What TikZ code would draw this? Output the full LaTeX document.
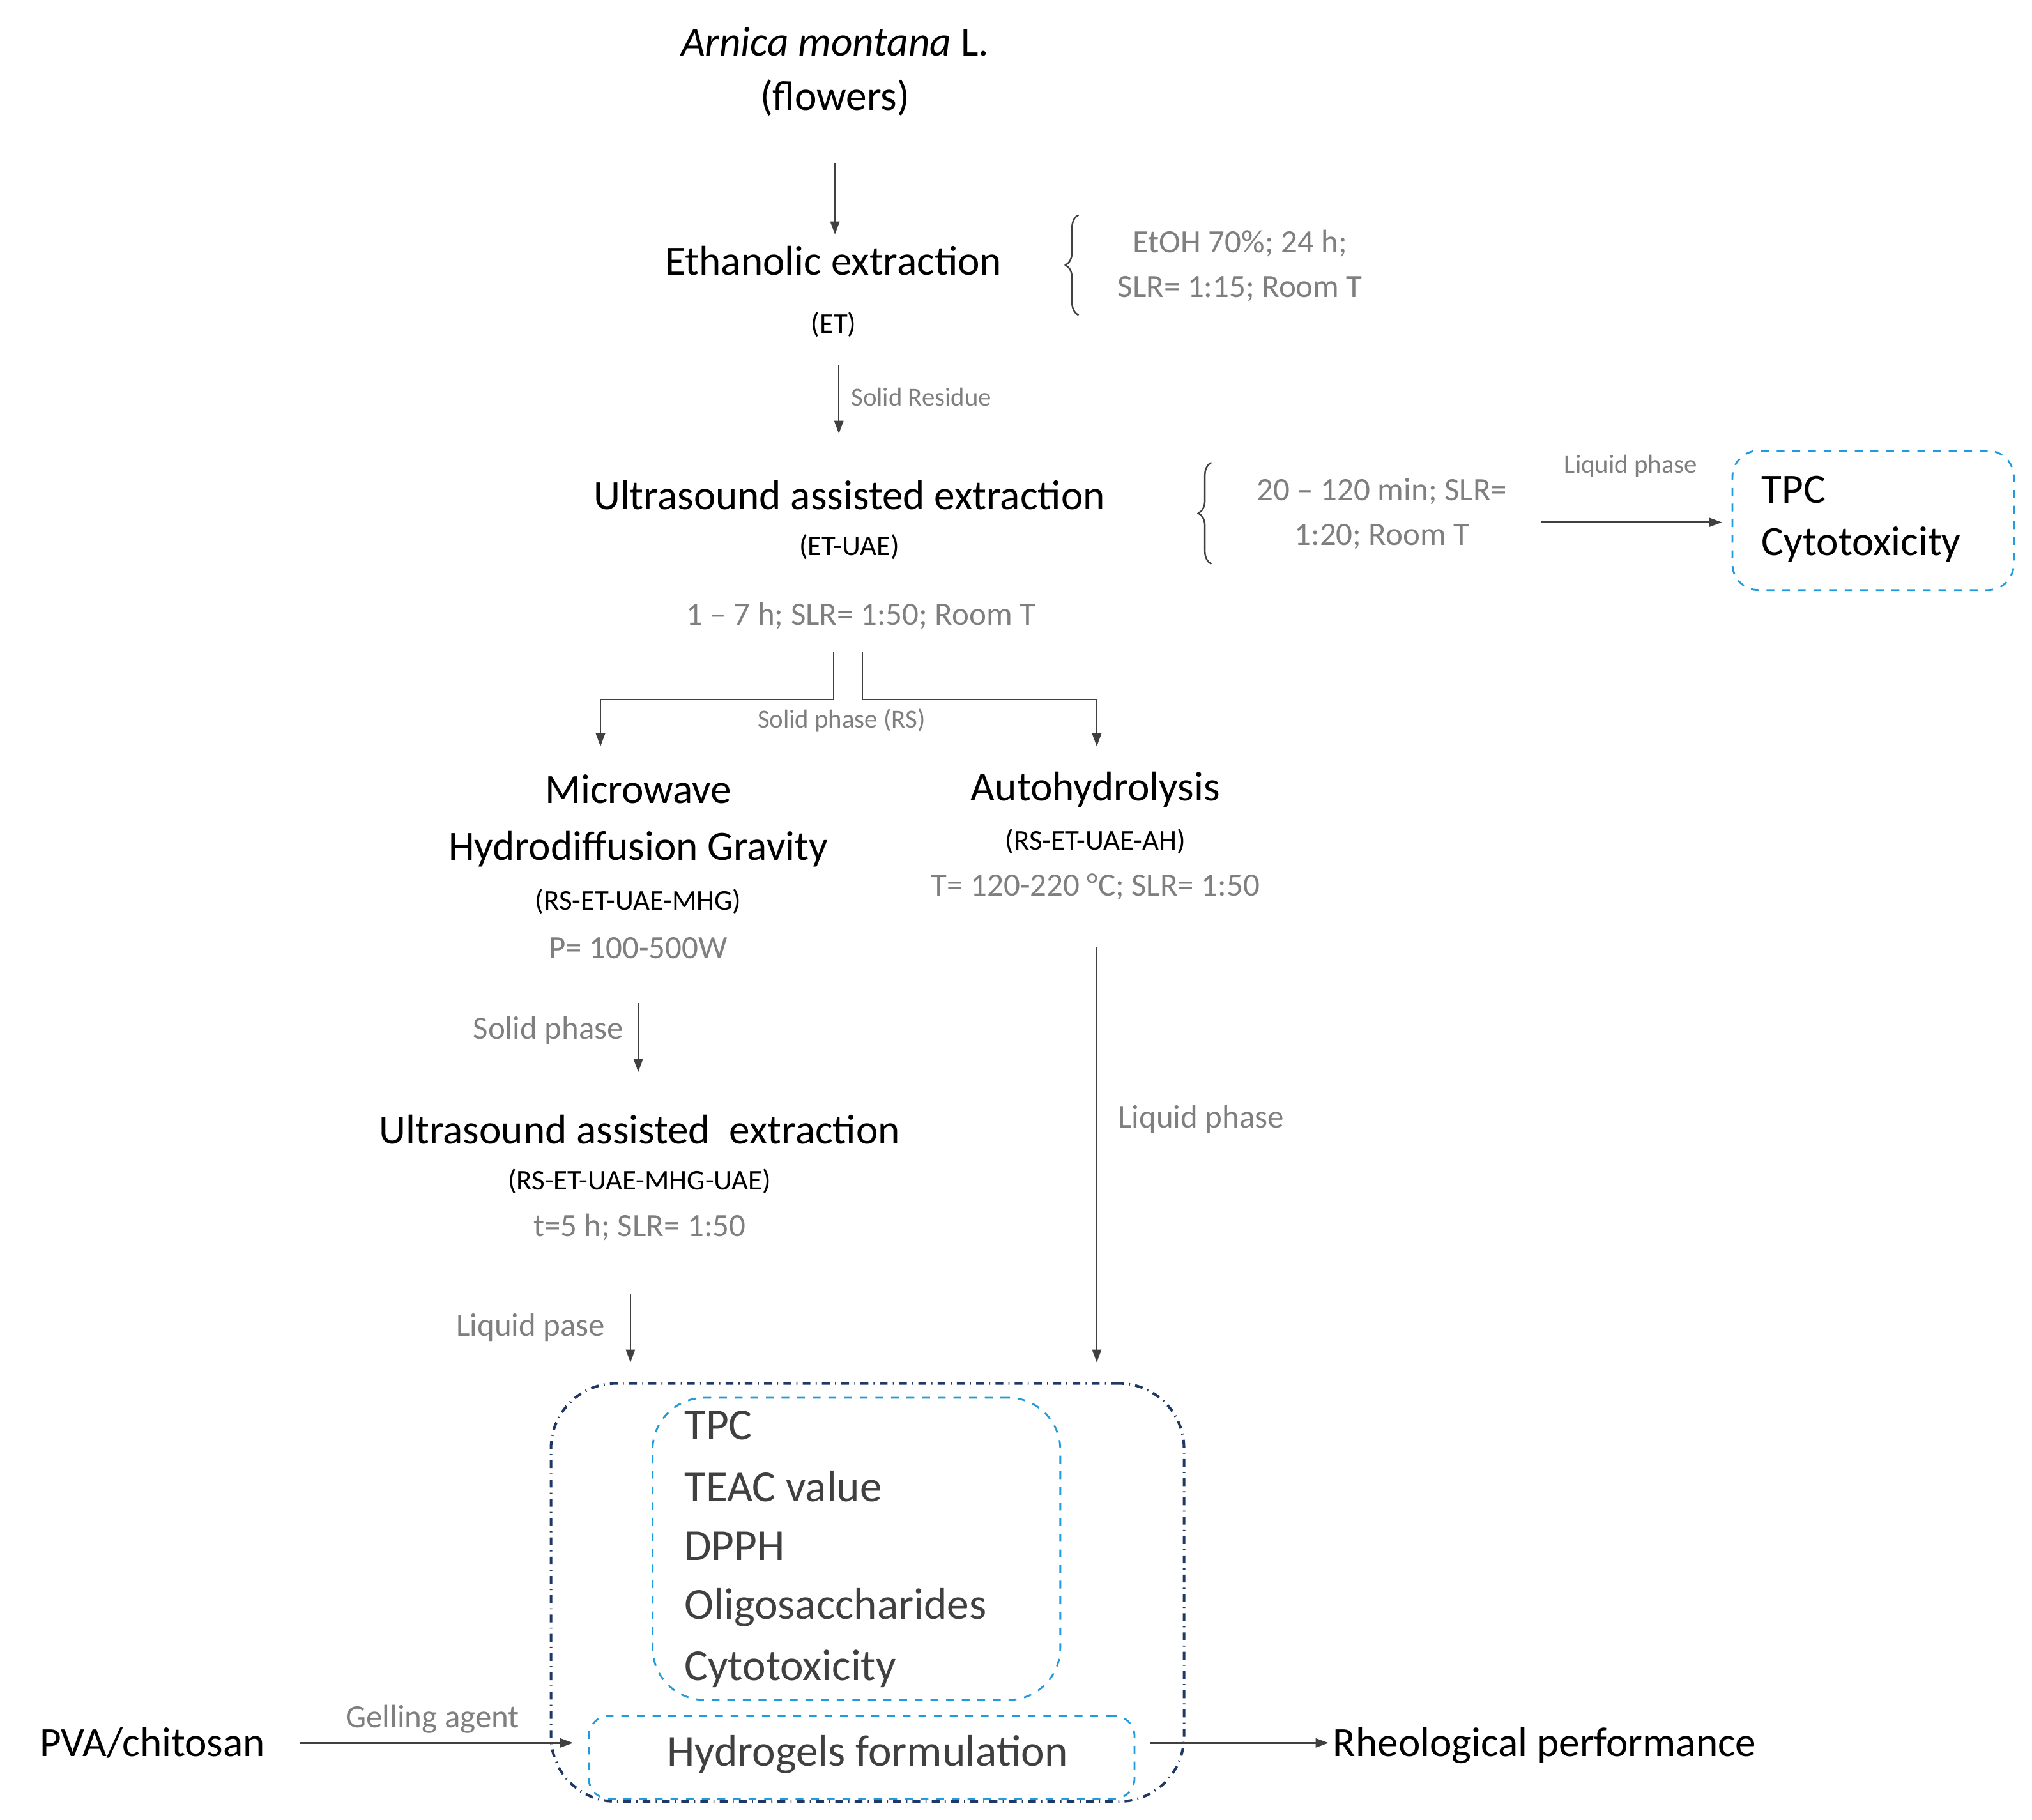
\documentclass[tikz,border=0pt]{standalone}
\usepackage{fontspec}
\setmainfont{Carlito}
\usetikzlibrary{arrows.meta,decorations.pathreplacing}
\definecolor{gr}{HTML}{7F7F7F}
\definecolor{dk}{HTML}{404040}
\definecolor{cy}{HTML}{1F9BDE}
\definecolor{nv}{HTML}{1F3864}
\begin{document}
\begin{tikzpicture}[x=0.5pt,y=-0.5pt,
 mt/.style={font=\fontsize{16}{18}\selectfont,inner sep=0pt},
 st/.style={font=\fontsize{11}{13}\selectfont,inner sep=0pt},
 gt/.style={font=\fontsize{12.5}{15}\selectfont,text=gr,inner sep=0pt},
 tt/.style={font=\fontsize{10}{12}\selectfont,text=gr,inner sep=0pt},
 bt/.style={font=\fontsize{17}{20}\selectfont,text=dk,inner sep=0pt,anchor=west},
 arr/.style={draw=dk,line width=0.6pt,-{Triangle[length=5pt,width=3.5pt]}},
 ln/.style={draw=dk,line width=0.6pt},
 br/.style={draw=dk,line width=0.6pt,decorate,decoration={brace,amplitude=5pt,mirror}}]
\useasboundingbox (0,0) rectangle (1560,1397);
\node[mt] (a1) at (641,32) {\textit{Arnica montana} L.};
\node[mt] (a2) at (641,75) {(flowers)};
\coordinate (c1) at (641,125); \coordinate (c2) at (641,180);
\draw[arr] (c1) -- (c2);
\node[mt] (et) at (640,200) {Ethanolic extraction};
\node[st] (et2) at (640,249) {(ET)};
\coordinate (b1t) at (828,165); \coordinate (b1b) at (828,242);
\draw[br] (b1t) -- (b1b);
\node[gt] (e1) at (952,187) {EtOH 70\%; 24 h;};
\node[gt] (e2) at (952,222) {SLR= 1:15; Room T};
\coordinate (c3) at (644,280); \coordinate (c4) at (644,333);
\draw[arr] (c3) -- (c4);
\node[tt,anchor=west] (sr) at (653,305) {Solid Residue};
\node[mt] (uae) at (652,380) {Ultrasound assisted extraction};
\node[st] (uae2) at (652,420) {(ET-UAE)};
\coordinate (b2t) at (930,355); \coordinate (b2b) at (930,433);
\draw[br] (b2t) -- (b2b);
\node[gt] (u1) at (1061,377) {20 – 120 min; SLR=};
\node[gt] (u2) at (1061,412) {1:20; Room T};
\coordinate (c5) at (1183,401); \coordinate (c6) at (1322,401);
\draw[arr] (c5) -- (c6);
\node[tt] (lp1) at (1252,358) {Liquid phase};
\node[draw=cy,dashed,line width=0.7pt,rounded corners=10pt,minimum width=108pt,minimum height=53.5pt] (box1) at (1438,399.5) {};
\node[mt,anchor=west] (t1) at (1352,376) {TPC};
\node[mt,anchor=west] (t2) at (1352,418) {Cytotoxicity};
\node[gt] (g1) at (661,473) {1 – 7 h; SLR= 1:50; Room T};
\coordinate (d1) at (640,500); \coordinate (d2) at (662,500);
\draw[arr] (d1) |- (550,537) -| (461,573);
\draw[arr] (d2) |- (750,537) -| (842,573);
\node[tt] (sp) at (646,553) {Solid phase (RS)};
\node[mt] (m1) at (490,606) {Microwave};
\node[mt] (m2) at (490,652) {Hydrodiffusion Gravity};
\node[st] (m3) at (490,692) {(RS-ET-UAE-MHG)};
\node[gt] (m4) at (490,728) {P= 100-500W};
\node[mt] (h1) at (841,606) {Autohydrolysis};
\node[st] (h2) at (841,646) {(RS-ET-UAE-AH)};
\node[gt] (h3) at (841,681) {T= 120-220 °C; SLR= 1:50};
\coordinate (c7) at (490,770); \coordinate (c8) at (490,823);
\draw[arr] (c7) -- (c8);
\node[gt,anchor=east] (sp2) at (479,791) {Solid phase};
\node[mt] (u3) at (491,867) {Ultrasound assisted\ \ extraction};
\node[st] (u4) at (491,907) {(RS-ET-UAE-MHG-UAE)};
\node[gt] (u5) at (491,942) {t=5 h; SLR= 1:50};
\coordinate (c9) at (484,993); \coordinate (c10) at (484,1046);
\draw[arr] (c9) -- (c10);
\node[gt,anchor=east] (lp2) at (465,1019) {Liquid pase};
\coordinate (c11) at (842,727); \coordinate (c12) at (842,1046);
\draw[arr] (c11) -- (c12);
\node[gt,anchor=west] (lp3) at (858,859) {Liquid phase};
\node[draw=nv,dash dot,line width=1pt,rounded corners=25pt,minimum width=243pt,minimum height=160.5pt] (big) at (666,1222.5) {};
\node[draw=cy,dashed,line width=0.7pt,rounded corners=20pt,minimum width=156.5pt,minimum height=116pt] (box2) at (657.5,1189) {};
\node[bt] (r1) at (525,1094) {TPC};
\node[bt] (r2) at (525,1141) {TEAC value};
\node[bt] (r3) at (525,1187) {DPPH};
\node[bt] (r4) at (525,1234) {Oligosaccharides};
\node[bt] (r5) at (525,1281) {Cytotoxicity};
\node[draw=cy,dashed,line width=0.7pt,rounded corners=8pt,minimum width=209.5pt,minimum height=32pt] (hyd) at (661.5,1349) {};
\node[font=\fontsize{17}{20}\selectfont,text=dk,inner sep=0pt] (hyt) at (666,1347) {Hydrogels formulation};
\node[mt] (pva) at (117,1338) {PVA/chitosan};
\coordinate (c13) at (230,1338); \coordinate (c14) at (440,1338);
\draw[arr] (c13) -- (c14);
\node[gt] (ga) at (332,1320) {Gelling agent};
\coordinate (c15) at (883,1338); \coordinate (c16) at (1020,1338);
\draw[arr] (c15) -- (c16);
\node[mt,anchor=west] (rh) at (1023,1340) {Rheological performance};
\end{tikzpicture}
\end{document}
